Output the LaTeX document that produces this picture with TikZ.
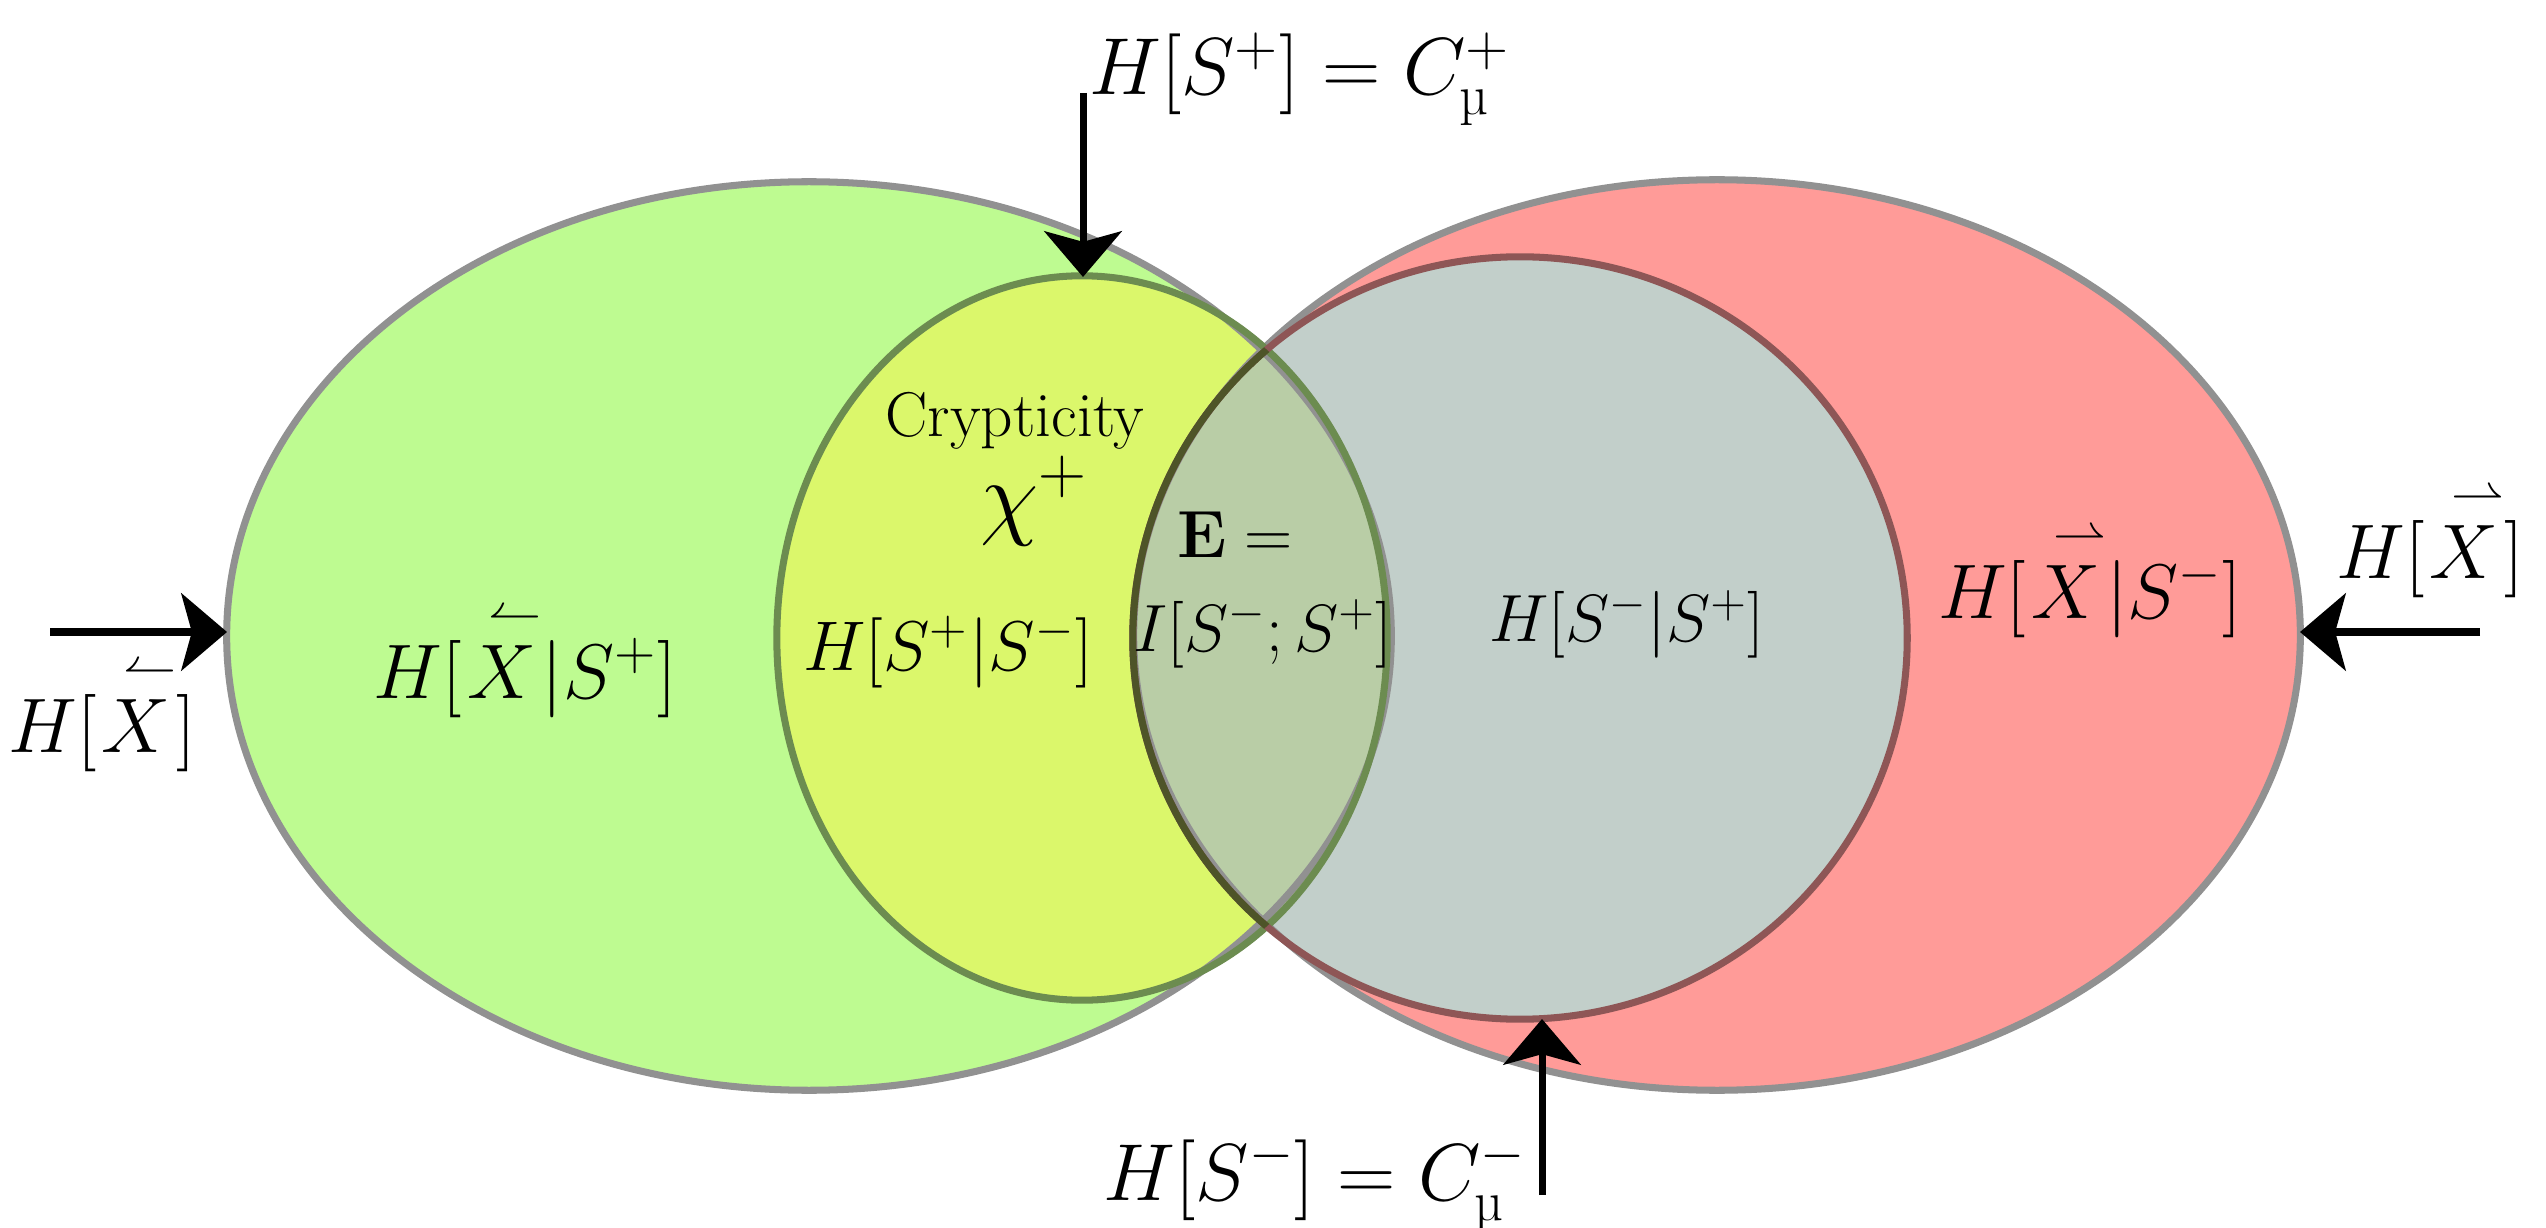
\RequirePackage{fix-cm}
\documentclass[tikz,border=0pt]{standalone}
\usepackage{amsmath}
\usetikzlibrary{arrows.meta}
\definecolor{bigGreen}{RGB}{190,251,145}
\definecolor{bigRed}{RGB}{255,155,152}
\definecolor{innerYellow}{RGB}{219,247,107}
\definecolor{innerGrey}{RGB}{194,207,202}
\definecolor{overlapCol}{RGB}{185,205,166}
\definecolor{outlineGrey}{RGB}{145,145,145}
\definecolor{innerRedLine}{RGB}{142,86,86}
\definecolor{innerGreenLine}{RGB}{108,140,80}
\definecolor{innerDarkLine}{RGB}{78,84,40}
\newcommand{\pastX}{\overset{\kern0.35em\leftharpoonup}{X}}
\newcommand{\futX}{\overset{\kern0.35em\rightharpoonup}{X}}
\newcommand{\mymu}{\text{µ}}
\tikzset{
  arr/.style={line width=2pt, -{Stealth[length=13pt,width=22pt,inset=3pt]}},
  bigline/.style={draw=outlineGrey, line width=2pt},
  innerline/.style={line width=2pt},
  lab/.style={inner sep=0pt, anchor=base, font=\fontsize{22}{26}\selectfont},
  bigG/.style={x radius=5.82cm, y radius=4.54cm},
  bigR/.style={x radius=5.83cm, y radius=4.55cm},
  inY/.style={x radius=3.05cm, y radius=3.62cm},
  inQ/.style={x radius=3.87cm, y radius=3.81cm},
}
\begin{document}
\begin{tikzpicture}[x=0.01cm,y=-0.01cm]
\useasboundingbox (0,0) rectangle (2546,1228);
\coordinate (cG) at (809,636);
\coordinate (cR) at (1717,635);
\coordinate (cY) at (1082,638);
\coordinate (cQ) at (1520,638);
% fills
\fill[bigGreen] (cG) ellipse [bigG];
\fill[bigRed] (cR) ellipse [bigR];
\fill[innerYellow] (cY) ellipse [inY];
\fill[innerGrey] (cQ) ellipse [inQ];
\begin{scope}
  \clip (cY) ellipse [inY];
  \fill[overlapCol] (cQ) ellipse [inQ];
\end{scope}
% outlines
\draw[bigline] (cG) ellipse [bigG];
\draw[bigline] (cR) ellipse [bigR];
\draw[innerline, draw=innerGreenLine] (cY) ellipse [inY];
\draw[innerline, draw=innerRedLine] (cQ) ellipse [inQ];
\begin{scope}
  \clip (cY) ellipse [inY];
  \draw[innerline, draw=innerDarkLine] (cQ) ellipse [inQ];
\end{scope}
% labels
\node[lab] (lX) at (525,698) {$H[\pastX|S^{+}]$};
\node[lab] (rX) at (2090,618) {$H[\futX|S^{-}]$};
\node[lab, font=\fontsize{20}{24}\selectfont] (yS) at (948,670) {$H[S^{+}|S^{-}]$};
\node[lab, font=\fontsize{19}{23}\selectfont] (gS) at (1627,642) {$H[S^{-}|S^{+}]$};
\node[lab, font=\fontsize{19}{23}\selectfont] (mi) at (1263,651) {$I[S^{-};S^{+}]$};
\node[lab, font=\fontsize{19}{23}\selectfont] (E) at (1235,558) {$\mathbf{E} =$};
\node[lab, font=\fontsize{18}{22}\selectfont] (cr) at (1015,437) {Crypticity};
\node[lab, font=\fontsize{27}{32}\selectfont] (chi) at (1034,528) {$\chi^{+}$};
\node[lab, font=\fontsize{23}{27}\selectfont] (top) at (1300,95) {$H[S^{+}] = C_{\mymu}^{+}$};
\node[lab, font=\fontsize{23}{27}\selectfont] (bot) at (1315,1200) {$H[S^{-}] = C_{\mymu}^{-}$};
\node[lab] (pX) at (102,752) {$H[\pastX]$};
\node[lab] (fX) at (2430,578) {$H[\futX]$};
% arrows
\coordinate (aLs) at (50,632);
\coordinate (aLt) at (227,632);
\coordinate (aRs) at (2480,632);
\coordinate (aRt) at (2300,632);
\coordinate (aTs) at (1083,93);
\coordinate (aTt) at (1083,277);
\coordinate (aBs) at (1542,1195);
\coordinate (aBt) at (1542,1019);
\draw[arr] (aLs) -- (aLt);
\draw[arr] (aRs) -- (aRt);
\draw[arr] (aTs) -- (aTt);
\draw[arr] (aBs) -- (aBt);
\end{tikzpicture}
\end{document}
